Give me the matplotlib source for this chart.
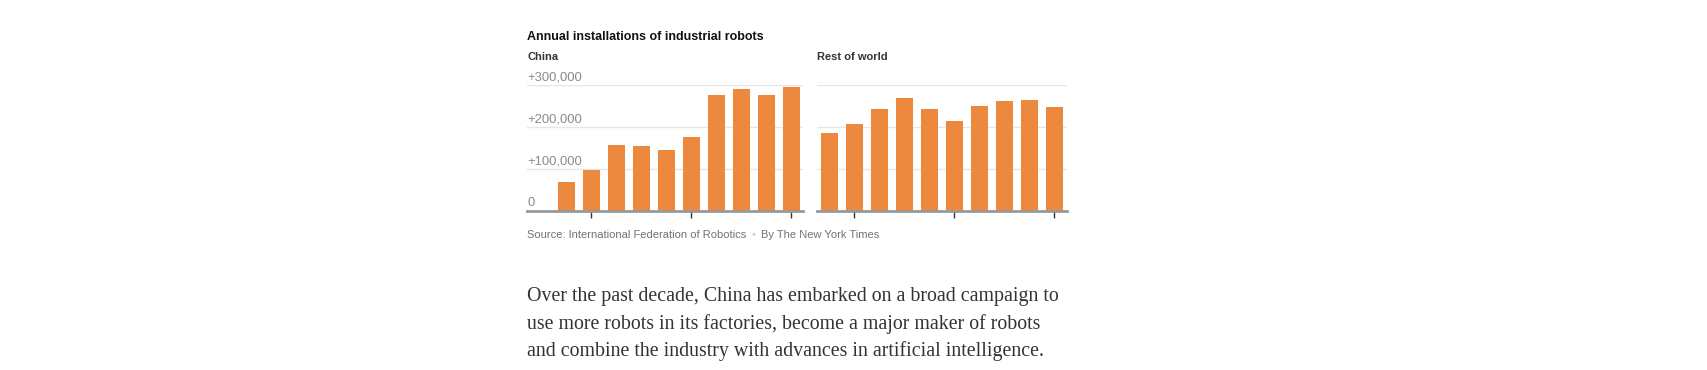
import matplotlib
matplotlib.use("Agg")
import matplotlib.pyplot as plt

# =========================
# Data
# =========================
years = [2015, 2016, 2017, 2018, 2019, 2020, 2021, 2022, 2023, 2024]
china = [69000, 97000, 157000, 155000, 145000, 176000, 277000, 291000, 277000, 296000]
rest_of_world = [186000, 207000, 243000, 270000, 243000, 215000, 251000, 262000, 265000, 248000]
tick_years = [2016, 2020, 2024]
y_ticks = [0, 100000, 200000, 300000]
y_labels = ["0", "+100,000", "+200,000", "+300,000"]

title = "Annual installations of industrial robots"
source = "Source: International Federation of Robotics"
byline = "By The New York Times"
body_lines = ["Over the past decade, China has embarked on a broad campaign to",
              "use more robots in its factories, become a major maker of robots",
              "and combine the industry with advances in artificial intelligence."]

ORANGE = "#ec893f"
W, H = 1708, 370

fig = plt.figure(figsize=(W / 100, H / 100), dpi=100)

def px_axes(x0, x1, ytop, ybot):
    return fig.add_axes([x0 / W, 1 - ybot / H, (x1 - x0) / W, (ybot - ytop) / H])

def style(ax, xlim):
    ax.set_xlim(*xlim)
    ax.set_ylim(0, 300000)
    for s in ["top", "right", "left"]:
        ax.spines[s].set_visible(False)
    ax.spines["bottom"].set_color("#999999")
    ax.spines["bottom"].set_linewidth(2)
    ax.set_yticks(y_ticks)
    ax.yaxis.grid(True, color="#e6e6e6", linewidth=1)
    ax.set_axisbelow(True)
    ax.tick_params(axis="y", left=False, labelleft=False)
    ax.set_xticks(tick_years)
    ax.tick_params(axis="x", length=5, width=1, color="#333333", labelbottom=False)
    ax.patch.set_alpha(0)

ax1 = px_axes(527, 803, 85.3, 210.7)
ax1.bar(years, china, width=0.69, color=ORANGE, zorder=2)
style(ax1, (2013.43, 2024.47))
for v, lab in zip(y_ticks, y_labels):
    ax1.text(0, v + 4500, lab, transform=ax1.get_yaxis_transform(), ha="left", va="bottom",
             fontsize=9.4, color="#8a8a8a", family="Liberation Sans", zorder=3)

ax2 = px_axes(816.7, 1066.7, 85.3, 210.7)
ax2.bar(years, rest_of_world, width=0.69, color=ORANGE, zorder=2)
style(ax2, (2014.5, 2024.5))

# titles
fig.text(527 / W, 1 - 37 / H, title, ha="left", va="center", fontsize=9,
         fontweight="bold", color="#121212", family="Liberation Sans")
fig.text(527 / W, 1 - 57 / H, "China", ha="left", va="center", fontsize=8,
         fontweight="bold", color="#333333", family="Liberation Sans")
fig.text(817 / W, 1 - 57 / H, "Rest of world", ha="left", va="center", fontsize=8,
         fontweight="bold", color="#333333", family="Liberation Sans")

# source line
t = fig.text(527 / W, 1 - 235 / H, source, ha="left", va="center", fontsize=8.0,
             color="#727272", family="Liberation Sans")
fig.canvas.draw()
bb = t.get_window_extent()
dot_x = bb.x1 + 7
fig.text(dot_x / W, 1 - 235 / H, "\u2022", ha="center", va="center", fontsize=7,
         color="#d0d0d0", family="DejaVu Sans")
fig.text((dot_x + 8) / W, 1 - 235 / H, byline, ha="left", va="center", fontsize=8.0,
         color="#727272", family="Liberation Sans")

# body text, one line at a time (baselines)
for i, line in enumerate(body_lines):
    fig.text(527 / W, 1 - (301 + 27.5 * i) / H, line, ha="left", va="baseline",
             fontsize=14.35, color="#333333", family="Liberation Serif")

fig.savefig("out.png", dpi=100)
